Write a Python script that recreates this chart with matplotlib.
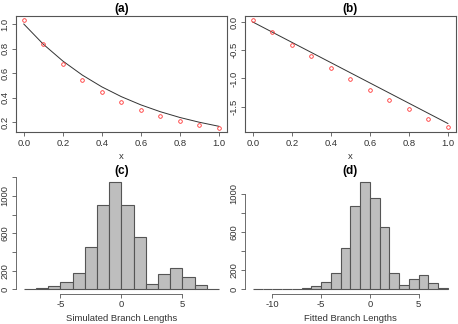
"""
Fitted curve vs observations (a, b) and branch length histograms (c, d)
"""

import matplotlib
matplotlib.use("Agg")
import matplotlib.pyplot as plt

plt.rcParams["font.family"] = ["Liberation Sans", "DejaVu Sans"]
plt.rcParams["axes.unicode_minus"] = False

# panel (a) / (b) data
x_obs = [0.0, 0.1, 0.2, 0.3, 0.4, 0.5, 0.6, 0.7, 0.8, 0.9, 1.0]
a_obs = [1.030, 0.834, 0.671, 0.543, 0.442, 0.361, 0.300, 0.249, 0.211, 0.178, 0.153]
a_fit = [1.0, 0.835, 0.698, 0.583, 0.487, 0.407, 0.340, 0.284, 0.237, 0.198, 0.165]
b_obs = [0.03, -0.18, -0.40, -0.61, -0.81, -1.01, -1.20, -1.38, -1.55, -1.72, -1.87]
b_fit_x = [0.0, 1.0]
b_fit_y = [0.0, -1.80]

# panel (c) / (d) histogram counts (bins of width 1)
c_edges = list(range(-8, 9))
c_counts = [8, 15, 32, 75, 179, 450, 907, 1154, 900, 565, 61, 168, 225, 129, 50, 5]
d_edges = list(range(-12, 9))
d_counts = [1, 1, 2, 2, 4, 10, 31, 80, 175, 437, 871, 1130, 962, 654, 175, 42,
            105, 154, 63, 10]

W, H = 458, 324
fig = plt.figure(figsize=(W / 100, H / 100), dpi=100)

FS = 6.8
TXT = "#333333"
EDGE = "#555555"


def box(l, t, r, b):
    return [l / W, (H - b) / H, (r - l) / W, (b - t) / H]


def style(ax, title, xlabel):
    ax.set_title(title, fontsize=8.5, fontweight="bold", pad=2.5)
    ax.set_xlabel(xlabel, fontsize=FS, color=TXT, labelpad=3.5)
    ax.tick_params(axis="both", labelsize=FS, labelcolor=TXT, length=3,
                   width=0.6, color=EDGE, pad=1.5)
    for lab in ax.get_yticklabels():
        lab.set_rotation(90)
        lab.set_va("center")


# (a)
ax = fig.add_axes(box(16, 15.7, 226.7, 132.3))
ax.plot(x_obs, a_fit, color="#333333", lw=0.7)
ax.plot(x_obs, a_obs, "o", mfc="none", mec="#ff3333", ms=2.6, mew=0.6)
ax.set_xlim(-0.04, 1.04)
ax.set_ylim(0.116, 1.068)
ax.set_xticks([0.0, 0.2, 0.4, 0.6, 0.8, 1.0])
ax.set_xticklabels(["0.0", "0.2", "0.4", "0.6", "0.8", "1.0"])
ax.set_yticks([0.2, 0.4, 0.6, 0.8, 1.0])
ax.set_yticklabels(["0.2", "0.4", "0.6", "0.8", "1.0"])
for s in ax.spines.values():
    s.set_color(EDGE)
    s.set_linewidth(0.8)
style(ax, "(a)", "x")

# (b)
ax = fig.add_axes(box(245, 15.7, 455.7, 132.3))
ax.plot(b_fit_x, b_fit_y, color="#333333", lw=0.7)
ax.plot(x_obs, b_obs, "o", mfc="none", mec="#ff3333", ms=2.6, mew=0.6)
ax.set_xlim(-0.04, 1.04)
ax.set_ylim(-1.956, 0.112)
ax.set_xticks([0.0, 0.2, 0.4, 0.6, 0.8, 1.0])
ax.set_xticklabels(["0.0", "0.2", "0.4", "0.6", "0.8", "1.0"])
ax.set_yticks([0.0, -0.5, -1.0, -1.5])
ax.set_yticklabels(["0.0", "-0.5", "-1.0", "-1.5"])
for s in ax.spines.values():
    s.set_color(EDGE)
    s.set_linewidth(0.8)
style(ax, "(b)", "x")


def hist_panel(rect, edges, counts, title, xlabel, xticks, ymax_tick):
    ax = fig.add_axes(rect)
    ax.bar(edges[:-1], counts, width=1, align="edge", color="#bebebe",
           edgecolor=EDGE, linewidth=0.8)
    span = edges[-1] - edges[0]
    ax.set_xlim(edges[0] - 0.04 * span, edges[-1] + 0.04 * span)
    top = max(counts)
    ax.set_ylim(-0.04 * top, 1.04 * top)
    ax.spines["top"].set_visible(False)
    ax.spines["right"].set_visible(False)
    for s in ("left", "bottom"):
        ax.spines[s].set_color(EDGE)
        ax.spines[s].set_linewidth(0.6)
    ax.spines["bottom"].set_bounds(xticks[0], xticks[-1])
    ax.spines["left"].set_bounds(0, ymax_tick)
    ax.set_xticks(xticks)
    ax.set_xticklabels([str(t) for t in xticks])
    yt = list(range(0, ymax_tick + 1, 200))
    ax.set_yticks(yt)
    ax.set_yticklabels([str(t) if t in (0, 200, 600, 1000) else "" for t in yt])
    style(ax, title, xlabel)
    return ax


hist_panel(box(16, 177.3, 226.7, 293.6), c_edges, c_counts, "(c)",
           "Simulated Branch Lengths", [-5, 0, 5], 1200)
hist_panel(box(245, 177.3, 455.7, 293.6), d_edges, d_counts, "(d)",
           "Fitted Branch Lengths", [-10, -5, 0, 5], 1000)

fig.savefig("out.png", dpi=100)
